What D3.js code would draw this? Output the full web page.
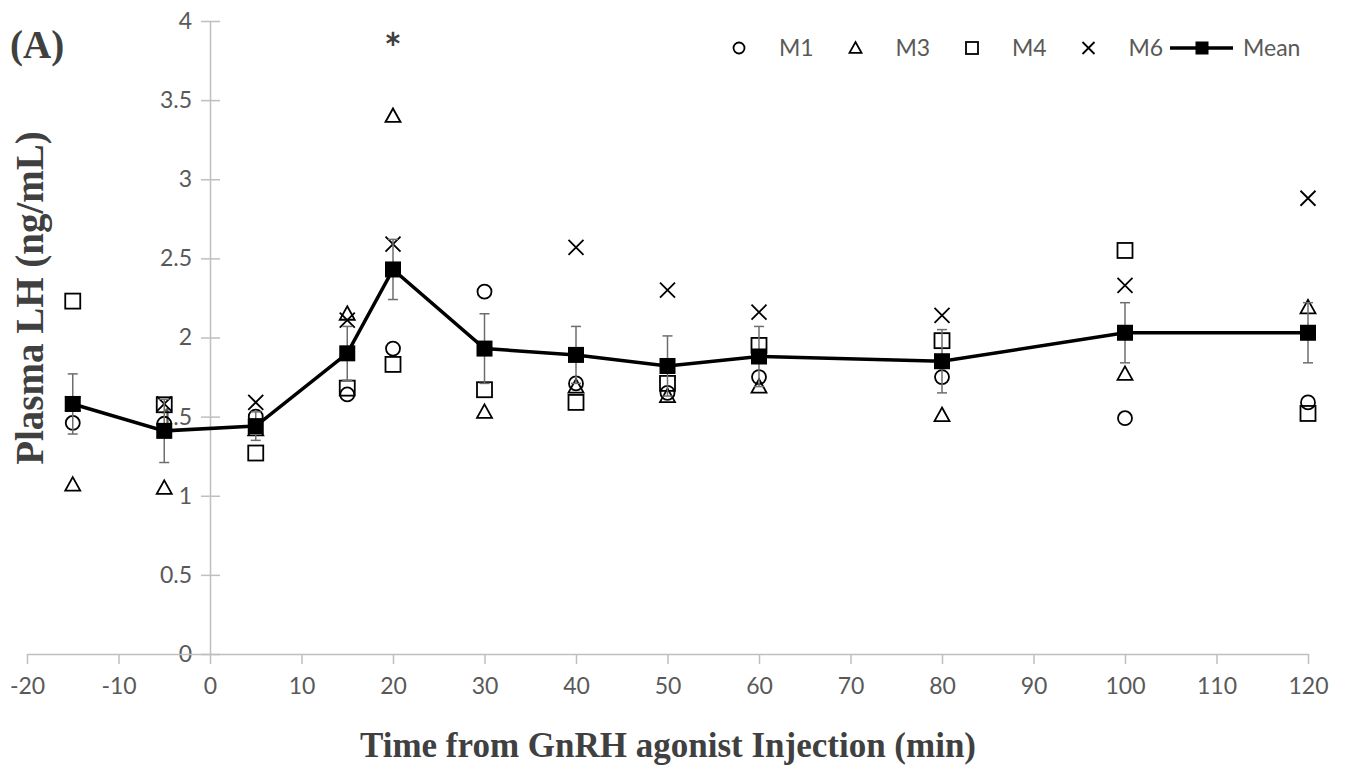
<!DOCTYPE html>
<html>
<head>
<meta charset="utf-8">
<script src="https://cdn.jsdelivr.net/npm/d3@7"></script>
<style>
  body { margin: 0; background: #fff; }
  svg { display: block; }
</style>
</head>
<body>
<svg></svg>
<script>
const width = 1347;
const height = 769;
const svg = d3.select("svg").attr("width", width).attr("height", height);

// data
const times = [-15, -5, 5, 15, 20, 30, 40, 50, 60, 80, 100, 120];
const m1 = [1.46, 1.455, 1.5, 1.64, 1.93, 2.29, 1.71, 1.65, 1.75, 1.75, 1.49, 1.59];
const m3 = [1.07, 1.05, 1.42, 2.15, 3.4, 1.53, 1.69, 1.63, 1.69, 1.51, 1.77, 2.19];
const m4 = [2.23, 1.575, 1.27, 1.68, 1.83, 1.67, 1.59, 1.71, 1.95, 1.98, 2.55, 1.52];
const m6 = [1.58, 1.58, 1.59, 2.11, 2.59, null, 2.57, 2.3, 2.16, 2.14, 2.33, 2.88];
const mean = [1.58, 1.41, 1.44, 1.9, 2.43, 1.93, 1.89, 1.82, 1.88, 1.85, 2.03, 2.03];
const sem = [0.19, 0.2, 0.09, 0.17, 0.19, 0.22, 0.18, 0.19, 0.19, 0.2, 0.19, 0.19];

const xTicks = [-20, -10, 0, 10, 20, 30, 40, 50, 60, 70, 80, 90, 100, 110, 120];
const yTicks = [0, 0.5, 1, 1.5, 2, 2.5, 3, 3.5, 4];

const seriesNames = ["M1", "M3", "M4", "M6"];
const seriesShapes = ["circle", "triangle", "square", "cross"];
const seriesValues = [m1, m3, m4, m6];

const star = { time: 20, value: 3.85, label: "*" };

const axisColor = "#bfbfbf";
const tickTextColor = "#595959";
const titleColor = "#404040";

const x = d3.scaleLinear().domain([-20, 120]).range([27, 1308]);
const y = d3.scaleLinear().domain([0, 4]).range([654, 21]);

// axes (plain hyphen for negatives, like the original)
const fmt = (d) => String(d);

const yAxis = svg.append("g")
  .attr("transform", `translate(${x(0)},0)`)
  .call(d3.axisLeft(y).tickValues(yTicks).tickFormat(fmt).tickSizeInner(9).tickSizeOuter(0).tickPadding(9));
yAxis.selectAll(".tick line").attr("x1", 10);

const xAxis = svg.append("g")
  .attr("transform", `translate(0,${y(0)})`)
  .call(d3.axisBottom(x).tickValues(xTicks).tickFormat(fmt).tickSizeInner(10).tickSizeOuter(0).tickPadding(14));

[xAxis, yAxis].forEach((g) => {
  g.select(".domain").attr("stroke", axisColor).attr("stroke-width", 1.5);
  g.selectAll(".tick line").attr("stroke", axisColor).attr("stroke-width", 1.5);
  g.selectAll(".tick text")
    .attr("fill", tickTextColor)
    .attr("font-family", "Lato, sans-serif")
    .attr("font-size", "23px");
});

// titles
svg.append("text")
  .attr("x", 668).attr("y", 757)
  .attr("text-anchor", "middle")
  .attr("font-family", "'Liberation Serif', serif")
  .attr("font-weight", "bold")
  .attr("font-size", "35px")
  .attr("fill", titleColor)
  .text("Time from GnRH agonist Injection (min)");

svg.append("text")
  .attr("transform", "translate(43,298) rotate(-90)")
  .attr("text-anchor", "middle")
  .attr("font-family", "'Liberation Serif', serif")
  .attr("font-weight", "bold")
  .attr("font-size", "39px")
  .attr("fill", titleColor)
  .text("Plasma LH (ng/mL)");

svg.append("text")
  .attr("x", 10).attr("y", 58)
  .attr("font-family", "'Liberation Serif', serif")
  .attr("font-weight", "bold")
  .attr("font-size", "39px")
  .attr("fill", titleColor)
  .text("(A)");

// marker drawing
const drawMarker = (g, shape, cx, cy, s) => {
  const h = s / 2;
  if (shape === "circle") {
    g.append("circle").attr("cx", cx).attr("cy", cy).attr("r", h - 0.5)
      .attr("fill", "none").attr("stroke", "#000").attr("stroke-width", 1.8);
  } else if (shape === "square") {
    g.append("rect").attr("x", cx - h).attr("y", cy - h).attr("width", s).attr("height", s)
      .attr("fill", "none").attr("stroke", "#000").attr("stroke-width", 1.8);
  } else if (shape === "triangle") {
    g.append("path")
      .attr("d", `M${cx},${cy - h}L${cx + h},${cy + h * 0.8}L${cx - h},${cy + h * 0.8}Z`)
      .attr("fill", "none").attr("stroke", "#000").attr("stroke-width", 1.8);
  } else if (shape === "cross") {
    g.append("path")
      .attr("d", `M${cx - h},${cy - h}L${cx + h},${cy + h}M${cx + h},${cy - h}L${cx - h},${cy + h}`)
      .attr("fill", "none").attr("stroke", "#000").attr("stroke-width", 1.8);
  } else if (shape === "filled") {
    g.append("rect").attr("x", cx - h).attr("y", cy - h).attr("width", s).attr("height", s)
      .attr("fill", "#000");
  }
};

// individual series
const pts = svg.append("g");
seriesValues.forEach((vals, i) => {
  vals.forEach((v, j) => {
    if (v == null) return;
    drawMarker(pts, seriesShapes[i], x(times[j]), y(v), 15);
  });
});

// error bars
const err = svg.append("g").attr("stroke", "#6e6e6e").attr("stroke-width", 1.5);
mean.forEach((v, j) => {
  const cx = x(times[j]);
  err.append("line").attr("x1", cx).attr("x2", cx).attr("y1", y(v + sem[j])).attr("y2", y(v - sem[j]));
  [v + sem[j], v - sem[j]].forEach((e) => {
    err.append("line").attr("x1", cx - 5).attr("x2", cx + 5).attr("y1", y(e)).attr("y2", y(e));
  });
});

// mean line
const line = d3.line().x((d, j) => x(times[j])).y((d) => y(d));
svg.append("path")
  .datum(mean)
  .attr("d", line)
  .attr("fill", "none")
  .attr("stroke", "#000")
  .attr("stroke-width", 3.5);

const meanPts = svg.append("g");
mean.forEach((v, j) => drawMarker(meanPts, "filled", x(times[j]), y(v), 16));

// significance mark
svg.append("text")
  .attr("x", x(star.time)).attr("y", y(star.value) + 19)
  .attr("text-anchor", "middle")
  .attr("font-family", "Lato, sans-serif")
  .attr("font-weight", "bold")
  .attr("font-size", "42px")
  .attr("fill", "#404040")
  .text(star.label);

// legend
const legend = svg.append("g");
const legendY = 48;
seriesNames.forEach((name, i) => {
  const lx = 739 + i * 116.5;
  drawMarker(legend, seriesShapes[i], lx, legendY, 12);
  legend.append("text")
    .attr("x", lx + 40).attr("y", legendY + 8)
    .attr("font-family", "Lato, sans-serif")
    .attr("font-size", "23px")
    .attr("fill", tickTextColor)
    .text(name);
});
legend.append("line")
  .attr("x1", 1170).attr("x2", 1233).attr("y1", legendY).attr("y2", legendY)
  .attr("stroke", "#000").attr("stroke-width", 3.5);
drawMarker(legend, "filled", 1202, legendY, 13);
legend.append("text")
  .attr("x", 1243).attr("y", legendY + 8)
  .attr("font-family", "Lato, sans-serif")
  .attr("font-size", "23px")
  .attr("fill", tickTextColor)
  .text("Mean");
</script>
</body>
</html>
